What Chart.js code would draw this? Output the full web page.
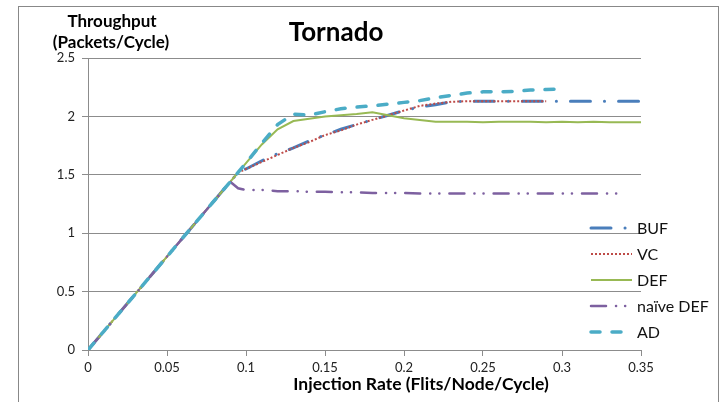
<!DOCTYPE html>
<html>
<head>
<meta charset="utf-8">
<title>Tornado</title>
<script src="https://cdn.jsdelivr.net/npm/chart.js@4/dist/chart.umd.min.js"></script>
<style>
  body { margin: 0; background: #fff; }
  #chart { display: block; }
</style>
</head>
<body>
<canvas id="chart" width="723" height="402"></canvas>
<script>
// Injection rates (x values) shared by every series
let rates = [0, 0.01, 0.02, 0.03, 0.04, 0.05, 0.06, 0.07, 0.08, 0.09, 0.095,
    0.10, 0.11, 0.12, 0.13, 0.14, 0.15, 0.16, 0.17, 0.18, 0.19, 0.20,
    0.21, 0.22, 0.23, 0.24, 0.25, 0.26, 0.27, 0.28, 0.29, 0.30,
    0.31, 0.32, 0.33, 0.34, 0.35];

// Throughput per series (null = no measurement)
let buf = [0, 0.16, 0.32, 0.48, 0.64, 0.80, 0.96, 1.12, 1.28, 1.44, 1.52,
    1.55, 1.62, 1.68, 1.73, 1.79, 1.84, 1.89, 1.93, 1.97, 2.01, 2.05,
    2.08, 2.10, 2.125, 2.13, 2.13, 2.13, 2.13, 2.13, 2.13, 2.13,
    2.13, 2.13, 2.13, 2.13, 2.13];
let vc = [0, 0.16, 0.32, 0.48, 0.64, 0.80, 0.96, 1.12, 1.28, 1.44, 1.52,
    1.55, 1.61, 1.67, 1.73, 1.78, 1.84, 1.88, 1.93, 1.97, 2.01, 2.05,
    2.09, 2.11, 2.125, 2.13, 2.13, 2.13, 2.13, 2.13, 2.13, null,
    null, null, null, null, null];
let def = [0, 0.16, 0.32, 0.48, 0.64, 0.80, 0.96, 1.12, 1.28, 1.44, 1.52,
    1.60, 1.76, 1.89, 1.96, 1.98, 2.00, 2.01, 2.02, 2.035, 2.01, 1.985,
    1.97, 1.955, 1.955, 1.955, 1.95, 1.955, 1.955, 1.955, 1.95, 1.955,
    1.95, 1.955, 1.95, 1.95, 1.95];
let naiveDef = [0, 0.16, 0.32, 0.48, 0.64, 0.80, 0.96, 1.12, 1.28, 1.44, 1.385,
    1.37, 1.37, 1.36, 1.36, 1.355, 1.355, 1.35, 1.35, 1.345, 1.345, 1.345,
    1.34, 1.34, 1.34, 1.34, 1.34, 1.34, 1.34, 1.34, 1.34, 1.34,
    1.34, 1.34, 1.34, 1.34, null];
let ad = [0, 0.16, 0.32, 0.48, 0.64, 0.80, 0.96, 1.12, 1.28, 1.44, 1.52,
    1.60, 1.77, 1.93, 2.02, 2.01, 2.04, 2.065, 2.08, 2.09, 2.105, 2.12,
    2.135, 2.16, 2.18, 2.20, 2.21, 2.21, 2.215, 2.225, 2.23, 2.235,
    null, null, null, null, null];

// Tick labels
let xTicks = ['0', '0.05', '0.1', '0.15', '0.2', '0.25', '0.3', '0.35'];
let yTicks = ['0', '0.5', '1', '1.5', '2', '2.5'];

let seriesNames = ['BUF', 'VC', 'DEF', 'naïve DEF', 'AD'];

// pair x values with y values for the scatter style line
function points(vals) {
    let out = [];
    for (let i = 0; i < rates.length; i++) {
        out.push({ x: rates[i], y: vals[i] });
    }
    return out;
}

let gridColor = '#8c8c8c';
Chart.defaults.font.family = 'Lato, "Open Sans", sans-serif';

/* ------------------------------ Frame + texts ----------------------------- */
let framePlugin = {
    id: 'frame',
    beforeDraw(chart) {
        let ctx = chart.ctx;
        ctx.save();
        ctx.fillStyle = '#fff';
        ctx.fillRect(0, 0, chart.width, chart.height);
        ctx.strokeStyle = '#888';
        ctx.lineWidth = 1;
        ctx.strokeRect(18.5, 6.5, 700, 420);
        ctx.restore();
    },
    afterDraw(chart) {
        let ctx = chart.ctx;
        ctx.save();
        ctx.fillStyle = '#000';
        ctx.textBaseline = 'alphabetic';
        ctx.textAlign = 'center';

        // chart title
        ctx.font = 'bold 26px Lato';
        ctx.fillText('Tornado', 336, 41);

        // y axis title
        ctx.font = 'bold 17px Lato';
        ctx.fillText('Throughput', 112, 27);
        ctx.fillText('(Packets/Cycle)', 111, 48);

        // x axis title
        ctx.font = 'bold 17.5px Lato';
        ctx.fillText('Injection Rate (Flits/Node/Cycle)', 421, 390);

        // legend drawn inside the plot, bottom right
        let rowY = [228, 254, 280, 306, 332];
        let ds = chart.data.datasets;
        ctx.textAlign = 'left';
        ctx.textBaseline = 'middle';
        ctx.font = '16px Lato';
        for (let i = 0; i < ds.length; i++) {
            ctx.save();
            ctx.strokeStyle = ds[i].borderColor;
            ctx.lineWidth = ds[i].borderWidth;
            ctx.lineCap = ds[i].borderCapStyle || 'butt';
            ctx.setLineDash(ds[i].borderDash || []);
            ctx.beginPath();
            ctx.moveTo(591, rowY[i]);
            ctx.lineTo(632, rowY[i]);
            ctx.stroke();
            ctx.restore();
            ctx.fillStyle = '#111';
            ctx.fillText(ds[i].label, 637, rowY[i] + 1);
        }
        ctx.restore();
    }
};

/* ------------------------------ Create chart ------------------------------ */
let graphArea = document.getElementById('chart').getContext('2d');
let myChart = new Chart(graphArea, {
    type: 'line',
    data: {
        datasets: [{
            label: seriesNames[0],
            data: points(buf),
            borderColor: '#4a7ebb',
            borderWidth: 3,
            borderDash: [20, 14, 0.1, 14],
            borderCapStyle: 'round',
            order: 5
        },
        {
            label: seriesNames[1],
            data: points(vc),
            borderColor: '#be4b48',
            borderWidth: 2,
            borderDash: [2, 2],
            borderCapStyle: 'butt',
            order: 4
        },
        {
            label: seriesNames[2],
            data: points(def),
            borderColor: '#98b954',
            borderWidth: 2,
            borderDash: [],
            order: 3
        },
        {
            label: seriesNames[3],
            data: points(naiveDef),
            borderColor: '#7d60a0',
            borderWidth: 2.5,
            borderDash: [15, 10, 0.1, 9, 0.1, 10],
            borderCapStyle: 'round',
            order: 2
        },
        {
            label: seriesNames[4],
            data: points(ad),
            borderColor: '#4bacc6',
            borderWidth: 3.5,
            borderDash: [9, 12],
            borderCapStyle: 'round',
            order: 1
        }]
    },
    options: {
        responsive: false,
        animation: false,
        devicePixelRatio: 1,
        layout: {
            padding: { left: 18, right: 82, top: 58, bottom: 22 }
        },
        elements: {
            point: { radius: 0 },
            line: { tension: 0, fill: false }
        },
        plugins: {
            legend: { display: false },
            title: { display: false },
            tooltip: { enabled: false }
        },
        scales: {
            x: {
                type: 'linear',
                min: 0,
                max: 0.35,
                afterFit(scale) { scale.height = 30; },
                ticks: {
                    stepSize: 0.05,
                    padding: 4,
                    color: '#222',
                    font: { size: 13 },
                    maxRotation: 0,
                    callback: (v, i) => xTicks[i]
                },
                grid: {
                    drawOnChartArea: false,
                    drawTicks: true,
                    tickLength: 6,
                    color: gridColor
                },
                border: { color: gridColor }
            },
            y: {
                min: 0,
                max: 2.5,
                afterFit(scale) { scale.width = 70; },
                ticks: {
                    stepSize: 0.5,
                    padding: 7,
                    color: '#222',
                    font: { size: 13 },
                    callback: (v, i) => yTicks[i]
                },
                grid: {
                    color: gridColor,
                    tickLength: 6
                },
                border: { color: gridColor }
            }
        }
    },
    plugins: [framePlugin]
});
</script>
</body>
</html>
